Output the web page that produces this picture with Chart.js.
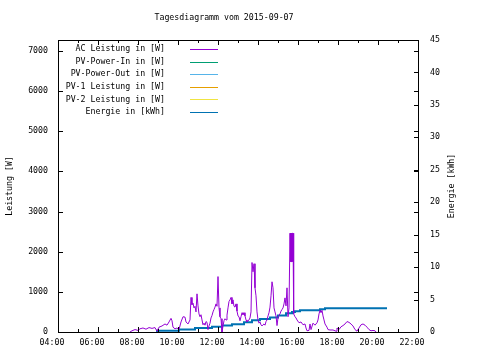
<!DOCTYPE html>
<html><head><meta charset="utf-8">
<script src="https://cdn.jsdelivr.net/npm/chart.js@4"></script>
<style>html,body{margin:0;padding:0;background:#fff}</style>
</head><body>
<canvas id="c" width="480" height="360"></canvas>
<script>
const chartTitle = "Tagesdiagramm vom 2015-09-07";
const leftAxisTitle = "Leistung [W]";
const rightAxisTitle = "Energie [kWh]";
const seriesLabels = ["AC Leistung in [W]", "PV-Power-In in [W]", "PV-Power-Out in [W]", "PV-1 Leistung in [W]", "PV-2 Leistung in [W]", "Energie in [kWh]"];
const seriesColors = ["#9400d3", "#009e73", "#56b4e9", "#e69f00", "#f0e442", "#0072b2"];
const xHourRange = [4, 22];
const leftRange = [0, 7270];
const rightRange = [0, 45];
const leftTickValues = [0, 1000, 2000, 3000, 4000, 5000, 6000, 7000];
const rightTickValues = [0, 5, 10, 15, 20, 25, 30, 35, 40, 45];

const powerTimes = ["07:36","07:42","07:51","08:00","08:06","08:15","08:24","08:33","08:42","08:51","08:57","09:03","09:12","09:21","09:27","09:33","09:39","09:42","09:45","09:51","09:57","10:03","10:09","10:15","10:21","10:24","10:30","10:36","10:39","10:42","10:45","10:48","10:51","10:54","10:57","11:00","11:03","11:06","11:09","11:12","11:15","11:18","11:21","11:24","11:27","11:30","11:33","11:36","11:39","11:42","11:45","11:48","11:51","11:54","11:57","12:00","12:03","12:06","12:09","12:12","12:15","12:18","12:21","12:24","12:27","12:30","12:33","12:36","12:39","12:42","12:45","12:48","12:51","12:54","12:57","13:00","13:03","13:06","13:09","13:12","13:15","13:18","13:21","13:24","13:27","13:30","13:33","13:36","13:39","13:42","13:45","13:48","13:51","13:54","13:57","14:00","14:03","14:06","14:09","14:12","14:15","14:18","14:21","14:24","14:27","14:30","14:33","14:36","14:39","14:42","14:45","14:48","14:51","14:54","14:57","15:00","15:03","15:06","15:09","15:12","15:15","15:18","15:21","15:24","15:27","15:30","15:33","15:36","15:37","15:38","15:39","15:40","15:41","15:42","15:43","15:44","15:45","15:47","15:51","15:54","15:57","16:03","16:09","16:15","16:21","16:24","16:27","16:33","16:36","16:39","16:45","16:51","16:57","17:00","17:03","17:06","17:09","17:12","17:15","17:18","17:21","17:27","17:30","17:36","17:45","17:54","17:57","18:03","18:09","18:15","18:21","18:27","18:33","18:39","18:45","18:51","18:57","19:03","19:09","19:15","19:21","19:27","19:33","19:39","19:45","19:51","19:54"];
const powerWatts = [0,30,60,40,80,100,70,110,90,110,20,120,150,200,170,250,340,280,120,80,100,60,250,380,370,250,200,300,860,680,720,600,640,500,950,650,450,380,430,300,180,220,170,260,240,60,150,220,350,410,500,560,620,700,640,1380,600,380,330,0,150,280,330,300,420,600,760,800,860,700,800,640,620,700,520,400,380,280,380,480,430,480,400,300,250,280,300,350,500,1730,1500,1700,1100,900,500,300,220,250,180,150,180,200,170,260,300,400,480,620,900,1250,1100,600,500,400,160,350,420,450,520,560,600,700,850,650,1100,380,600,2460,1750,2460,1750,2460,1750,2460,1750,2460,2460,450,380,350,300,230,250,180,200,100,30,40,200,60,220,170,230,300,450,540,480,540,400,300,200,120,60,50,50,20,100,60,130,160,200,260,240,200,150,60,20,100,180,200,170,120,60,30,40,30,0];

const energyTimes = ["08:57","10:03","10:51","11:42","12:12","12:42","13:18","13:42","14:06","14:36","15:00","15:24","15:42","15:51","16:06","17:06","17:21","18:45","20:27"];
const energyKWh = [0.0,0.2,0.4,0.6,0.8,1.0,1.2,1.5,1.8,2.0,2.25,2.55,2.9,3.1,3.2,3.35,3.5,3.65,3.65];

function toHours(t){ const p = t.split(":"); return +p[0] + (+p[1])/60; }
function pad2(n){ return (n<10?"0":"")+n; }

const FONT = "DejaVu Sans Mono";
Chart.defaults.font.family = FONT;
Chart.defaults.font.size = 8.25;
Chart.defaults.color = "#000";

const gnuplotDecor = {
  id: "gnuplotDecor",
  afterDraw(chart){
    const ctx = chart.ctx, ca = chart.chartArea;
    const xs = chart.scales.x, ys = chart.scales.y, y2 = chart.scales.y2;
    ctx.save();
    ctx.strokeStyle = "#000"; ctx.lineWidth = 1;
    ctx.strokeRect(ca.left + 0.5, ca.top + 0.5, ca.right - ca.left, ca.bottom - ca.top);
    ctx.beginPath();
    xs.ticks.forEach(t => {
      const px = Math.round(xs.getPixelForValue(t.value)) + 0.5;
      const len = (Math.round(t.value) % 2 === 0) ? 5 : 3;
      ctx.moveTo(px, ca.bottom); ctx.lineTo(px, ca.bottom - len);
      ctx.moveTo(px, ca.top); ctx.lineTo(px, ca.top + len);
    });
    ys.ticks.forEach(t => {
      const py = Math.round(ys.getPixelForValue(t.value)) + 0.5;
      ctx.moveTo(ca.left, py); ctx.lineTo(ca.left + 5, py);
      ctx.moveTo(ca.right + 1, py); ctx.lineTo(ca.right - 4, py);
    });
    y2.ticks.forEach(t => {
      const py = Math.round(y2.getPixelForValue(t.value)) + 0.5;
      ctx.moveTo(ca.right + 1, py); ctx.lineTo(ca.right - 4, py);
    });
    ctx.stroke();

    ctx.fillStyle = "#000";
    ctx.font = "8.25px '" + FONT + "'";
    ctx.textAlign = "center"; ctx.textBaseline = "middle";
    ctx.fillText(chartTitle, 224, 18);
    ctx.save();
    ctx.translate(452, (ca.top + ca.bottom) / 2);
    ctx.rotate(-Math.PI / 2);
    ctx.fillText(rightAxisTitle, 0, 0);
    ctx.restore();
    ctx.textAlign = "right";
    chart.data.datasets.forEach((ds, i) => {
      const yy = 49 + i * 12.6;
      ctx.fillStyle = "#000";
      ctx.fillText(ds.label, 165, yy);
      ctx.strokeStyle = ds.borderColor;
      ctx.lineWidth = 1;
      ctx.beginPath();
      const ly = Math.round(yy) + 0.5;
      ctx.moveTo(190, ly); ctx.lineTo(218, ly);
      ctx.stroke();
    });
    ctx.restore();
  }
};

const datasets = seriesLabels.map((lab, i) => ({
  label: lab, borderColor: seriesColors[i], backgroundColor: seriesColors[i],
  borderWidth: 1, pointRadius: 0, fill: false, tension: 0, data: [], yAxisID: "y"
}));
datasets[0].data = powerTimes.map((t, i) => ({x: toHours(t), y: powerWatts[i]}));
datasets[5].data = energyTimes.map((t, i) => ({x: toHours(t), y: energyKWh[i]}));
datasets[5].yAxisID = "y2";
datasets[5].stepped = "after";
datasets[5].borderWidth = 2;

new Chart(document.getElementById("c"), {
  type: "line",
  data: { datasets },
  options: {
    responsive: false, animation: false, devicePixelRatio: 1,
    layout: { padding: { top: 40, left: 0, right: 0, bottom: 0 } },
    plugins: { legend: { display: false }, title: { display: false }, tooltip: { enabled: false } },
    scales: {
      x: {
        type: "linear", position: "bottom", min: xHourRange[0], max: xHourRange[1],
        grid: { display: false, drawTicks: false }, border: { display: false },
        ticks: { stepSize: 1, autoSkip: false, maxRotation: 0, padding: 6, labelOffset: -6,
          callback: v => (v % 2 === 0) ? pad2(v) + ":00" : "" },
        afterFit: s => { s.height = 28; }
      },
      y: {
        type: "linear", position: "left", min: leftRange[0], max: leftRange[1],
        grid: { display: false, drawTicks: false }, border: { display: false },
        ticks: { padding: 10, callback: v => String(v) },
        afterBuildTicks: s => { s.ticks = leftTickValues.map(v => ({ value: v })); },
        title: { display: true, text: leftAxisTitle, padding: 5 },
        afterFit: s => { s.width = 58; }
      },
      y2: {
        type: "linear", position: "right", min: rightRange[0], max: rightRange[1],
        grid: { display: false, drawTicks: false }, border: { display: false },
        ticks: { padding: 12, callback: v => String(v) },
        afterBuildTicks: s => { s.ticks = rightTickValues.map(v => ({ value: v })); },
        afterFit: s => { s.width = 62; }
      }
    }
  },
  plugins: [gnuplotDecor]
});
</script>
</body></html>
